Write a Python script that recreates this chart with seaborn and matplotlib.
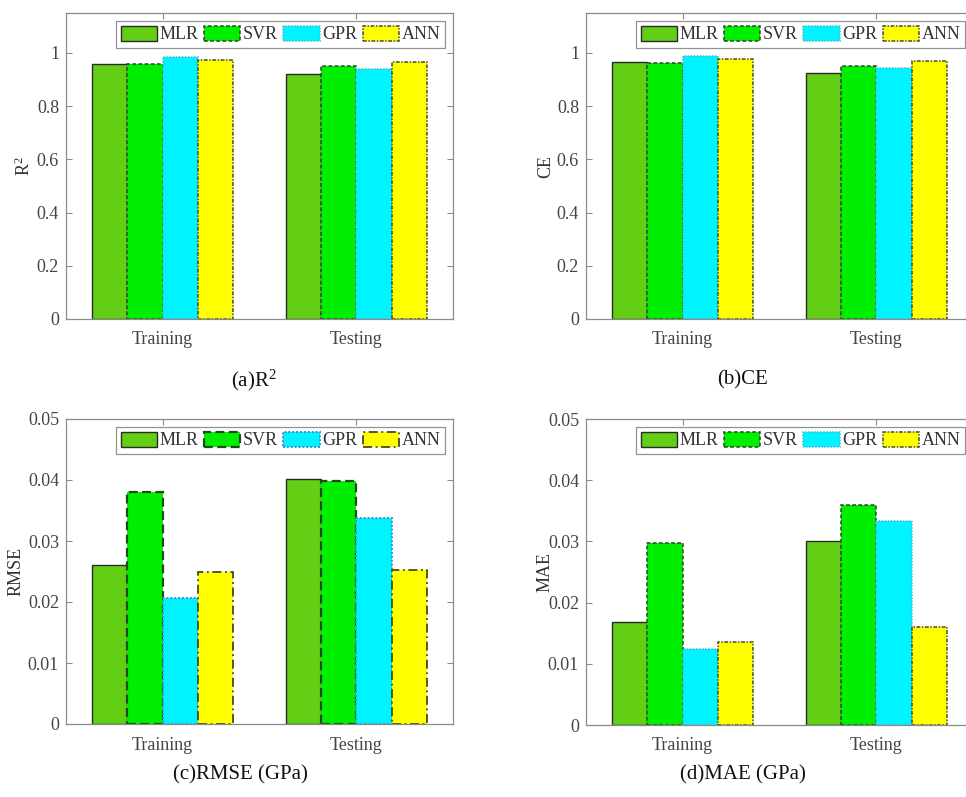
import matplotlib
matplotlib.use("Agg")
import matplotlib.pyplot as plt
import seaborn as sns
import pandas as pd
from matplotlib.patches import Patch

# ---- data ----
sets = ["Training", "Testing"]
models = ["MLR", "SVR", "GPR", "ANN"]
r2_train = [0.959, 0.957, 0.984, 0.974]
r2_test = [0.921, 0.949, 0.939, 0.966]
ce_train = [0.965, 0.963, 0.988, 0.978]
ce_test = [0.925, 0.950, 0.944, 0.969]
rmse_train = [0.0260, 0.0380, 0.0206, 0.0250]
rmse_test = [0.0402, 0.0399, 0.0338, 0.0253]
mae_train = [0.0168, 0.0297, 0.0125, 0.0135]
mae_test = [0.0301, 0.0360, 0.0334, 0.0160]

r2_ticks = [0, 0.2, 0.4, 0.6, 0.8, 1]
r2_ticklabels = ["0", "0.2", "0.4", "0.6", "0.8", "1"]
err_ticks = [0, 0.01, 0.02, 0.03, 0.04, 0.05]
err_ticklabels = ["0", "0.01", "0.02", "0.03", "0.04", "0.05"]

colors = ["#63CF14", "#00EE00", "#00F4FF", "#FFFF00"]

sns.set_theme(style="white")
plt.rcParams["font.family"] = ["Liberation Serif", "DejaVu Serif"]
plt.rcParams["mathtext.fontset"] = "custom"
plt.rcParams["mathtext.rm"] = "Liberation Serif"
plt.rcParams["mathtext.it"] = "Liberation Serif:italic"

fig = plt.figure(figsize=(9.66, 7.97), dpi=100)
W, H = 966, 797


def ax_at(l, t, r, b):
    return fig.add_axes([l / W, 1 - b / H, (r - l) / W, (b - t) / H])


panels = [
    dict(box=(66, 13, 453, 319), tr=r2_train, te=r2_test, ylim=1.15,
         ticks=r2_ticks, tl=r2_ticklabels, ylabel=r"R$^2$", ylx=24,
         cap=r"(a)R$^2$", capx=254, capy=380, thick=False),
    dict(box=(586, 13, 973, 319), tr=ce_train, te=ce_test, ylim=1.15,
         ticks=r2_ticks, tl=r2_ticklabels, ylabel="CE", ylx=546,
         cap="(b)CE", capx=742, capy=380, thick=False),
    dict(box=(66, 419, 453, 724), tr=rmse_train, te=rmse_test, ylim=0.05,
         ticks=err_ticks, tl=err_ticklabels, ylabel="RMSE", ylx=16,
         cap="(c)RMSE (GPa)", capx=240, capy=775, thick=True),
    dict(box=(586, 419, 973, 725), tr=mae_train, te=mae_test, ylim=0.05,
         ticks=err_ticks, tl=err_ticklabels, ylabel="MAE", ylx=545,
         cap="(d)MAE (GPa)", capx=743, capy=775, thick=False),
]

tick_color = "#444444"
spine_color = "#8a8a8a"

for p in panels:
    ax = ax_at(*p["box"])
    df = pd.DataFrame({
        "set": [s for s in sets for _ in models],
        "model": models * 2,
        "value": list(p["tr"]) + list(p["te"]),
    })
    sns.barplot(data=df, x="set", y="value", hue="model", order=sets,
                hue_order=models, palette=colors, saturation=1, width=0.73,
                ax=ax, legend=False, errorbar=None)
    if p["thick"]:
        styles = [("#2a2a2a", "-", 1.0), ("#1f4a1f", (0, (4, 2)), 1.6),
                  ("#3a8fd0", (0, (1, 1)), 1.4), ("#4a4a1a", (0, (5, 2, 1, 2)), 1.3)]
    else:
        styles = [("#2a2a2a", "-", 1.0), ("#2a4a2a", (0, (2.5, 1.5)), 1.1),
                  ("#48b8d8", (0, (1, 1)), 1.1), ("#4a4a2a", (0, (2.5, 1, 1, 1)), 1.1)]
    for cont, (ec, ls, lw) in zip(ax.containers, styles):
        for bar in cont:
            bar.set_edgecolor(ec)
            bar.set_linestyle(ls)
            bar.set_linewidth(lw)
    ax.set_xlim(-0.5, 1.5)
    ax.set_ylim(0, p["ylim"])
    ax.set_yticks(p["ticks"])
    ax.set_yticklabels(p["tl"])
    ax.set_xlabel("")
    ax.set_ylabel("")
    ax.tick_params(axis="both", direction="in", length=4, width=0.8,
                   color=spine_color, labelcolor=tick_color, labelsize=13,
                   top=True, right=True, left=True, bottom=True)
    ax.tick_params(axis="x", pad=9)
    ax.tick_params(axis="y", pad=5)
    for s in ax.spines.values():
        s.set_color(spine_color)
        s.set_linewidth(0.9)
        s.set_visible(True)

    handles = [Patch(facecolor=c, edgecolor=ec, linestyle=ls, linewidth=lw, label=m)
               for c, (ec, ls, lw), m in zip(colors, styles, models)]
    leg = ax.legend(handles=handles, loc="upper right", ncol=4, fontsize=13,
                    frameon=True, fancybox=False, edgecolor="#777777",
                    handlelength=2.0, handleheight=0.9, handletextpad=0.15,
                    columnspacing=0.3, borderpad=0.25, borderaxespad=0.45)
    leg.get_frame().set_linewidth(0.9)
    for t in leg.get_texts():
        t.set_color("#333333")

    yc = (p["box"][1] + p["box"][3]) / 2
    fig.text(p["ylx"] / W, 1 - yc / H, p["ylabel"], rotation=90, ha="center",
             va="center", fontsize=13, color="#333333")
    fig.text(p["capx"] / W, 1 - p["capy"] / H, p["cap"], ha="center",
             va="center", fontsize=15, color="#111111")

fig.savefig("out.png", dpi=100)
